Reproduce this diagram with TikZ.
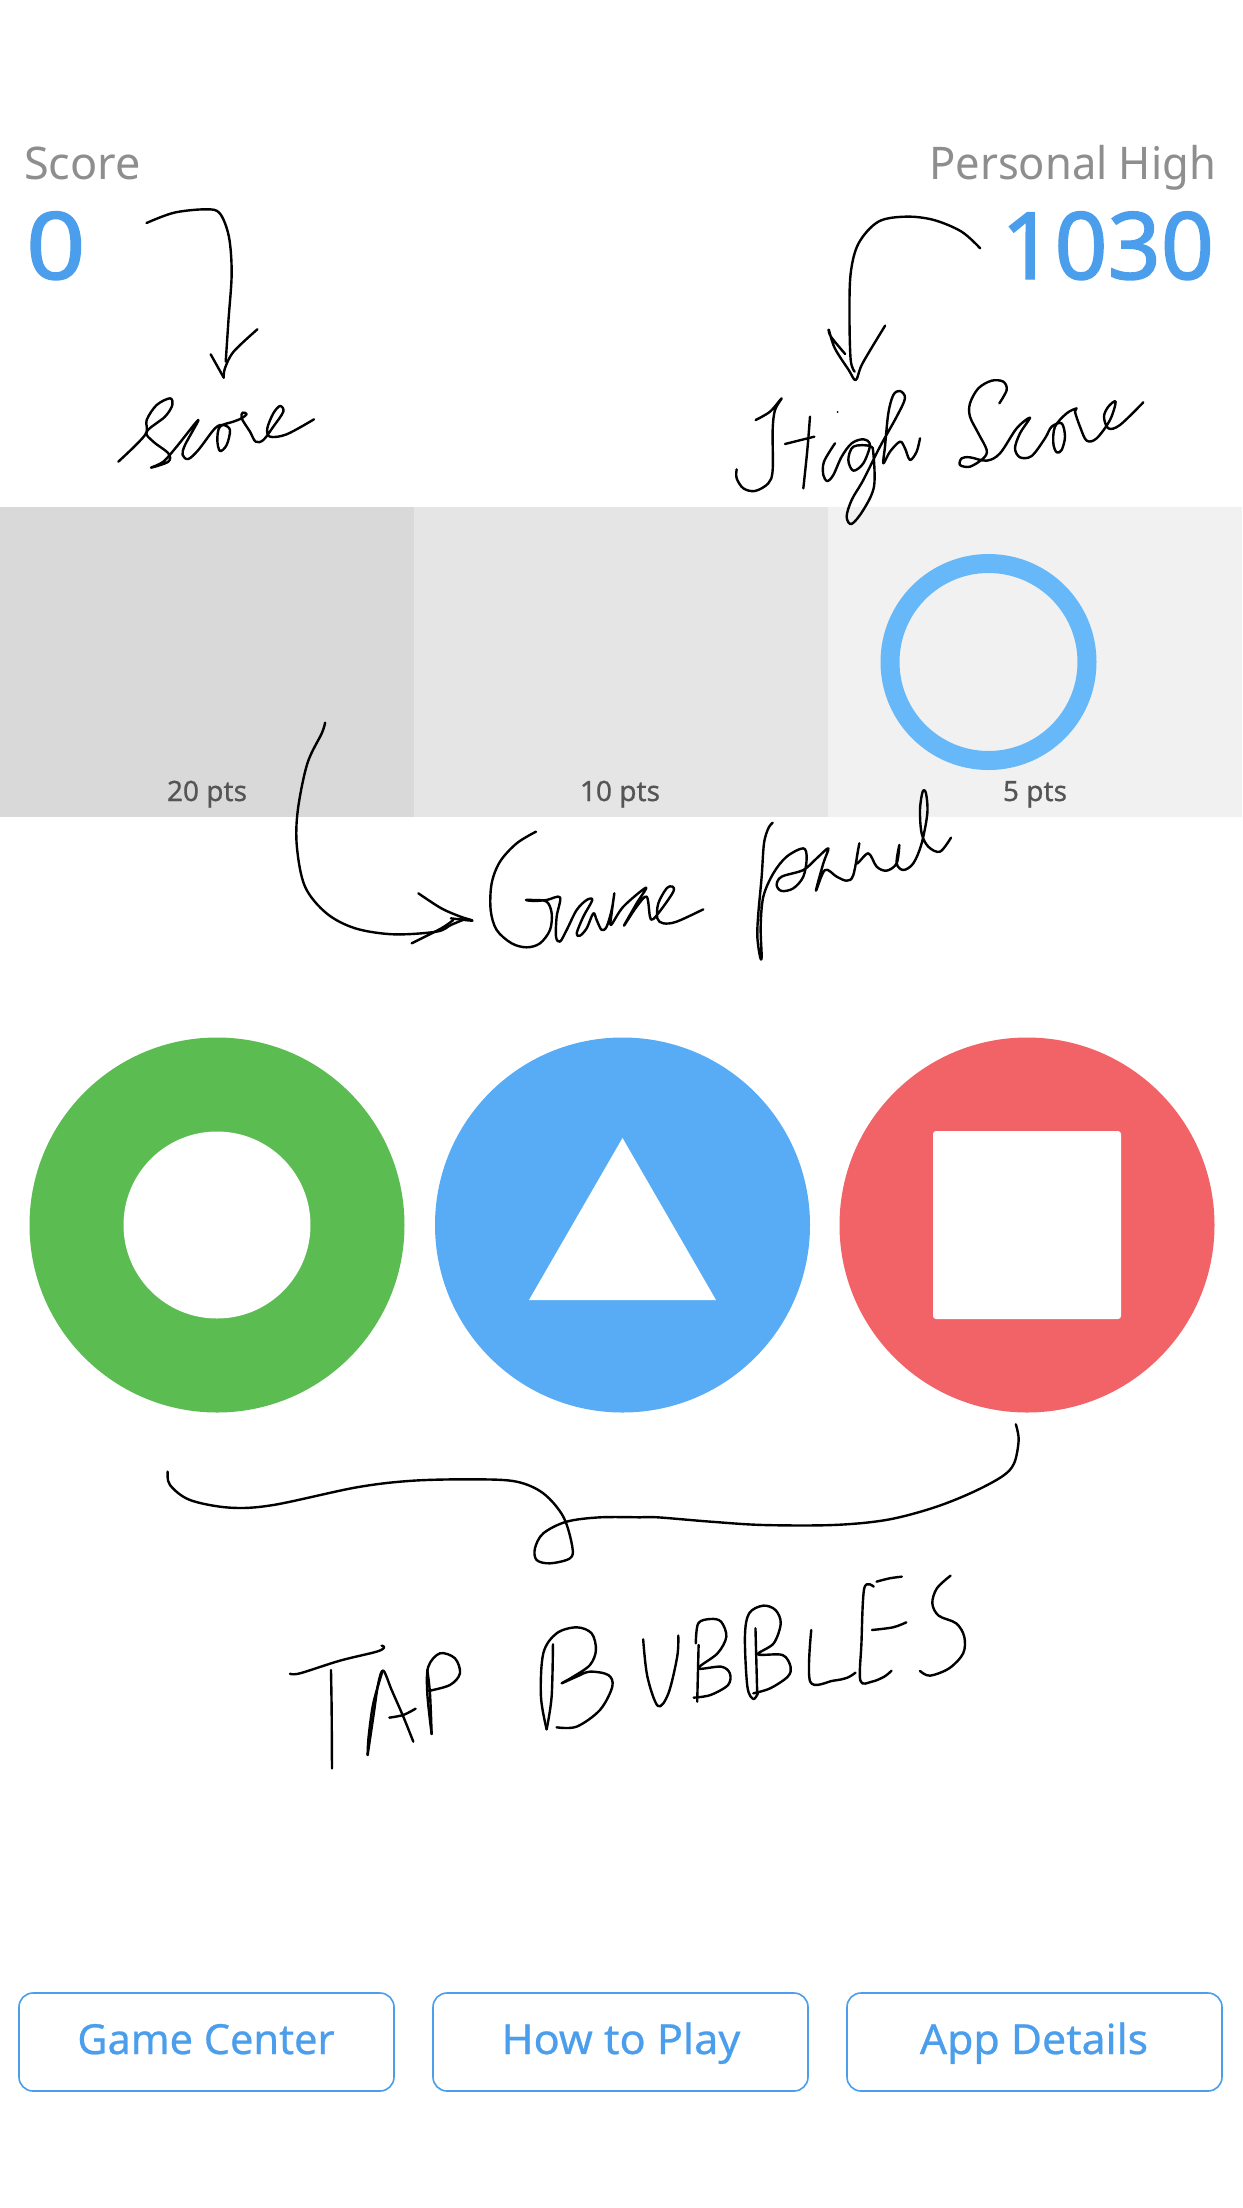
\documentclass[tikz,border=0pt]{standalone}
\usepackage{fontspec}
\usepackage{graphicx}
\setmainfont{Noto Sans}
\newfontfamily\heavyface[FakeBold=1.6]{Noto Sans}
\newfontfamily\wideface[FakeBold=1.6,FakeStretch=1.12]{Noto Sans}
\newfontfamily\btnface[FakeBold=0.6]{Noto Sans}
\definecolor{scoreblue}{HTML}{4A9EEC}
\definecolor{labelgrey}{HTML}{8E8E8E}
\definecolor{ptsgrey}{HTML}{555555}
\definecolor{ringblue}{HTML}{66B8F8}
\definecolor{tapgreen}{HTML}{5BBC51}
\definecolor{tapblue}{HTML}{58ACF5}
\definecolor{tapred}{HTML}{F16367}
\newcommand\hand[1]{\draw[ink] plot[smooth,tension=0.55] coordinates {#1};}
\newcommand\fsz[1]{\fontsize{#1}{#1}\selectfont}
\tikzset{
  ink/.style={black,line width=2.4pt,line cap=round,line join=round},
  txt/.style={inner sep=0pt,outer sep=0pt},
  smalllabel/.style={txt,anchor=base,text=ptsgrey,font=\btnface\fsz{28}},
  btn/.style={draw=scoreblue,line width=1.6pt,rounded corners=14pt,fill=white},
  btntext/.style={txt,anchor=base,text=scoreblue,font=\btnface\fsz{41.5}},
  headlabel/.style={txt,text=labelgrey,font=\fsz{45}},
  scoretext/.style={txt,text=scoreblue,font=\heavyface\fsz{93}}
}
\begin{document}
\begin{tikzpicture}[x=1pt,y=-1pt]
\useasboundingbox (0,0) rectangle (1242,2208);
\fill[white] (0,0) rectangle (1242,2208);
% header
\node[headlabel,anchor=base west] (scorelabel) at (24,179) {Score};
\node[headlabel,anchor=base east] (highlabel) at (1216,179) {\scalebox{0.966}[1]{Personal High}};
\node[scoretext,anchor=base west,font=\wideface\fsz{93}] (scoreval) at (26,279) {0};
\node[scoretext,anchor=base east] (highval) at (1214,279) {1030};
% game panel
\fill[fill=black!15] (0,507) rectangle (414,817);
\fill[fill=black!10] (414,507) rectangle (828,817);
\fill[fill=black!5.5] (828,507) rectangle (1242,817);
\draw[ringblue,line width=19pt] (988.5,662) circle (98.5);
\node[smalllabel] (p20) at (207,801) {20 pts};
\node[smalllabel] (p10) at (620,801) {10 pts};
\node[smalllabel] (p5) at (1035,801) {5 pts};
% bubbles
\fill[tapgreen] (217,1225) circle (187.5);
\fill[white] (217,1225) circle (93.5);
\fill[tapblue] (622.5,1225) circle (187.5);
\fill[white] (622.5,1138) -- (716,1300) -- (529,1300) -- cycle;
\fill[tapred] (1027,1225) circle (187.5);
\fill[white,rounded corners=3pt] (933,1131) rectangle (1121,1319);
% buttons
\draw[btn] (19,1993) rectangle (394,2091);
\draw[btn] (433,1993) rectangle (808,2091);
\draw[btn] (847,1993) rectangle (1222,2091);
\node[btntext] (b1) at (206,2054) {Game Center};
\node[btntext] (b2) at (621,2054) {\scalebox{1.04}[1]{How to Play}};
\node[btntext] (b3) at (1034,2054) {\scalebox{1.03}[1]{App Details}};
% arrow to the score
\begin{scope}[shift={(0,100)},x=0.396pt,y=-0.3333pt]
\hand{(370,369)(440,338)(520,328)(555,340)(578,410)(585,520)(577,660)(570,785)}
\hand{(650,688)(590,755)(568,805)(565,833)}
\hand{(565,833)(532,763)}
\end{scope}
% script word: Score
\begin{scope}[shift={(110,390)},x=0.3333pt,y=-0.3333pt]
\hand{(25,215)(105,135)(110,90)(140,45)(180,25)(187,45)(165,80)(110,125)(130,155)(175,190)(175,215)(123,233)(160,215)(200,170)(265,90)(225,165)(218,195)(235,207)(265,180)(315,115)(340,105)(360,120)(350,165)(330,183)(322,150)(330,110)(370,95)(395,85)(410,72)(398,68)(395,85)(420,125)(437,155)(460,150)(490,110)(520,65)(510,48)(490,70)(472,115)(480,140)(530,133)(612,88)}
\end{scope}
% arrow to the high score
\begin{scope}[shift={(621,100)},x=0.396pt,y=-0.3333pt]
\hand{(907,445)(860,395)(790,360)(720,350)(650,365)(600,430)(580,520)(577,650)(580,780)(590,815)}
\hand{(667,677)(610,790)(593,840)(575,810)(540,745)(525,690)(530,710)(566,762)}
\end{scope}
% script word: High
\begin{scope}[shift={(720,380)},x=0.3333pt,y=-0.3333pt]
\hand{(107,120)(150,95)(185,55)(165,90)(158,150)(158,270)(145,310)(105,333)(70,325)(50,295)(50,268)}
\hand{(195,192)(283,170)}
\hand{(270,110)(262,210)(250,325)}
\fill (353,96) circle (1pt);
\hand{(345,190)(312,245)(310,285)(322,303)(340,285)(365,230)(395,190)(430,178)(450,195)(430,250)(400,272)(385,240)(400,200)(450,198)(460,220)(462,320)(430,390)(395,432)(380,410)(395,360)(430,300)(480,200)(530,110)(555,55)(540,33)(520,45)(505,100)(495,200)(490,250)(510,215)(540,185)(555,205)(570,240)(590,215)(600,175)}
\end{scope}
% script word: Score (high)
\begin{scope}[shift={(950,370)},x=0.3333pt,y=-0.3333pt]
\hand{(148,100)(170,60)(160,35)(125,32)(85,55)(60,100)(60,140)(85,190)(110,240)(100,265)(60,290)(30,285)(35,265)(60,262)(110,272)(150,250)(200,175)(240,143)(210,190)(195,235)(210,262)(245,258)(285,205)(305,170)(335,160)(345,200)(335,240)(320,247)(310,220)(315,170)(350,130)(380,115)(375,125)(390,170)(410,212)(440,205)(480,150)(497,95)(475,110)(462,140)(475,175)(510,165)(580,97)}
\end{scope}
% game panel arrow
\begin{scope}[shift={(250,700)},x=0.4783pt,y=-0.3333pt]
\hand{(157,68)(150,100)(120,190)(100,330)(98,440)(115,560)(160,640)(220,685)(300,703)(390,695)(420,675)(445,660)}
\hand{(352,580)(400,625)(440,650)(465,662)(420,655)}
\hand{(338,730)(400,685)(425,660)}
\end{scope}
% script word: Game
\begin{scope}[shift={(480,820)},x=0.3333pt,y=-0.3333pt]
\hand{(168,35)(110,70)(60,125)(35,190)(32,270)(50,330)(95,370)(140,382)(180,370)(210,330)(215,280)(200,245)(160,240)(138,240)(160,243)(200,240)(240,232)(230,290)(228,350)(240,365)(260,330)(290,270)(320,240)(337,240)(310,290)(290,340)(300,347)(320,325)(340,280)(350,300)(365,330)(380,320)(395,270)(403,220)(395,280)(393,315)(430,260)(498,203)(470,250)(432,317)(470,260)(500,230)(510,290)(520,297)(550,260)(580,215)(578,200)(560,205)(535,250)(532,295)(550,310)(590,305)(670,268)}
\end{scope}
% script word: panel
\begin{scope}[shift={(740,780)},x=0.3333pt,y=-0.3333pt]
\hand{(98,128)(85,145)(72,190)(65,290)(55,400)(52,470)(60,530)(65,530)(62,440)(70,350)(100,280)(140,230)(190,205)(200,235)(190,290)(160,325)(125,333)(110,315)(125,290)(190,270)(230,235)(265,205)(250,250)(228,332)(255,270)(290,290)(320,302)(340,285)(358,190)(350,250)(385,220)(410,260)(440,272)(470,250)(478,195)(470,250)(490,270)(520,250)(545,190)(562,100)(558,40)(548,35)(540,90)(545,160)(565,200)(600,215)(633,173)}
\end{scope}
% brace and TAP
\begin{scope}[shift={(140,1410)},x=0.3333pt,y=-0.3333pt]
\hand{(83,185)(90,225)(150,270)(270,293)(400,285)(650,232)(820,212)(1010,208)(1130,215)(1210,250)(1270,320)(1297,410)(1290,445)(1230,460)(1190,450)(1185,415)(1210,370)(1280,335)(1380,322)(1500,322)}
\hand{(450,791)(480,790)(600,752)(710,725)(733,712)(725,707)}
\hand{(573,780)(575,900)(576,1075)}
\hand{(683,1035)(700,920)(715,820)(730,782)(755,840)(790,920)(820,995)}
\hand{(683,1035)(686,980)(700,880)(728,782)}
\hand{(748,923)(790,915)(827,896)}
\hand{(875,972)(862,850)(865,770)(900,730)(945,745)(960,790)(930,825)(865,843)}
\hand{(875,972)(870,850)(862,780)}
\hand{(1220,958)(1203,860)(1210,730)(1250,670)(1310,652)(1355,670)(1368,720)(1350,765)(1300,800)(1265,820)(1310,800)(1350,785)(1405,795)(1417,830)(1380,900)(1310,950)(1250,952)}
\hand{(1239,703)(1235,860)(1220,958)}
\end{scope}
% rest of brace and BUBBLES
\begin{scope}[shift={(500,1410)},x=0.3509pt,y=-0.3333pt]
\hand{(400,322)(450,322)(600,335)(750,345)(950,345)(1100,330)(1230,295)(1340,250)(1430,200)(1465,160)(1478,90)(1470,43)}
\hand{(408,688)(420,800)(450,888)(480,850)(505,740)(508,677)}
\hand{(566,705)(562,875)}
\hand{(552,863)(600,855)(650,825)(655,790)(630,770)(565,775)(620,730)(645,680)(630,635)(600,627)(565,640)(558,700)}
\hand{(728,655)(733,850)}
\hand{(722,850)(770,835)(820,800)(828,770)(805,735)(735,733)(780,700)(800,640)(785,600)(750,587)(710,610)(698,680)(705,830)(722,867)(735,850)}
\hand{(887,660)(884,815)(950,812)(990,803)(1013,788)}
\hand{(1065,530)(1038,535)(1030,700)(1027,812)(1060,815)(1095,800)(1116,782)}
\hand{(1073,515)(1110,505)(1145,500)}
\hand{(1060,660)(1120,652)(1158,637)}
\hand{(1284,497)(1245,535)(1232,580)(1250,617)(1300,640)(1323,680)(1320,730)(1280,775)(1225,797)(1197,783)}
\end{scope}
\end{tikzpicture}
\end{document}
